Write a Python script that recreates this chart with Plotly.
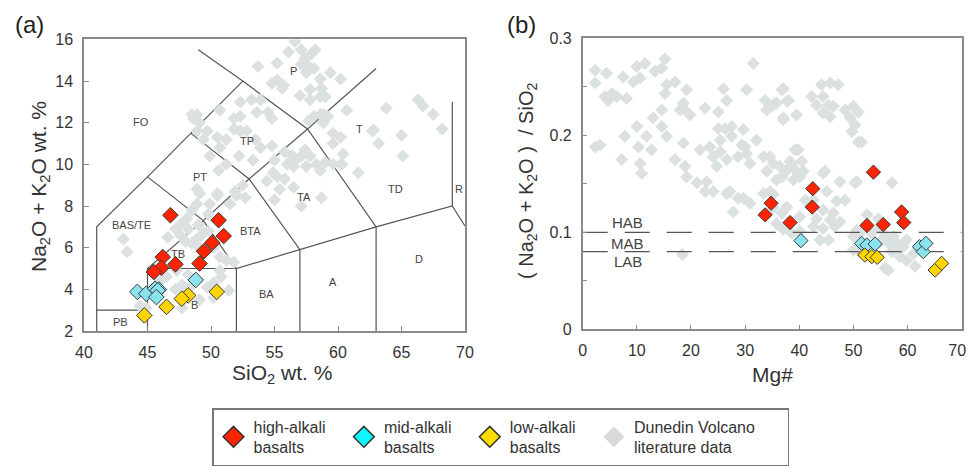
import plotly.graph_objects as go

# ---------------- data ----------------
# (a) TAS diagram: sample groups
HIGH_A_SIO2 = [46.8, 50.6, 51.0, 50.1, 49.45, 49.1, 46.2, 47.2, 46.1, 45.5]
HIGH_A_ALK = [7.56, 7.32, 6.56, 6.24, 5.83, 5.24, 5.55, 5.2, 5.04, 4.83]
MID_A_SIO2 = [48.8, 44.2, 44.9, 45.6, 45.9, 45.8, 45.7]
MID_A_ALK = [4.45, 3.88, 3.79, 4.03, 3.99, 3.95, 3.63]
LOW_A_SIO2 = [50.45, 48.2, 47.7, 46.5, 44.75]
LOW_A_ALK = [3.88, 3.71, 3.55, 3.16, 2.75]

GRAY_A_SIO2 = [56.6, 56.1, 57.1, 57.9, 57.4, 58.2, 55.2, 53.7, 57.1, 57.7, 57.5, 58.1, 55.2, 55.7, 54.8,
               55.6, 57.0, 57.8, 58.6, 59.4, 60.2, 57.8, 58.6, 59.0, 58.7, 60.7, 58.1, 58.9, 59.2, 63.8,
               66.3, 66.7, 67.5, 68.2, 65.0, 65.1, 62.7, 63.2, 59.6, 60.2, 59.6, 57.7, 53.9, 53.2, 52.3,
               53.6, 52.3, 51.8, 54.5, 54.8, 50.7, 48.6, 49.1, 48.9, 49.7, 49.4, 50.5, 51.2, 50.7, 48.5,
               48.9, 52.3, 52.8, 51.8, 53.5, 53.9, 54.8, 52.2, 53.3, 51.2, 49.9, 50.6, 55.0, 55.8, 56.4,
               56.0, 56.6, 57.1, 57.8, 57.5, 58.3, 58.6, 56.5, 59.6, 60.2, 61.6, 54.9, 55.2, 54.4, 51.9,
               52.5, 50.5, 48.9, 55.4, 56.5, 58.6, 58.85, 60.4, 60.3, 57.4, 59.0, 55.8, 62.8,
               49.1, 48.9, 48.5, 48.1, 47.6, 48.2, 49.0, 49.8, 49.9, 50.5, 52.0, 52.7, 51.5, 55.0, 57.1,
               58.7, 43.1, 43.4, 47.2, 46.6, 47.6, 48.0, 48.5, 48.9, 49.4, 49.8, 49.1, 50.2, 50.7, 51.2,
               51.8, 50.7, 50.8, 50.2, 49.7, 48.2, 47.7, 47.2, 46.0, 45.7, 46.5, 47.3, 47.7, 48.0, 48.35,
               47.7, 49.1, 50.2, 51.4, 44.4, 44.9]
GRAY_A_ALK = [15.9, 15.4, 15.5, 15.3, 15.1, 15.5, 14.85, 14.7, 14.8, 14.7, 14.4, 14.6, 14.05, 13.8, 13.9,
              13.65, 13.3, 13.6, 14.1, 14.4, 14.1, 13.1, 13.25, 13.25, 13.65, 12.6, 12.3, 12.4, 12.3, 12.7,
              13.1, 12.8, 12.4, 11.7, 11.4, 10.4, 11.6, 11.0, 11.5, 11.3, 11.0, 12.1, 13.1, 13.1, 13.0,
              12.5, 12.3, 12.2, 12.5, 12.2, 12.6, 12.2, 12.0, 11.6, 11.6, 11.2, 11.3, 11.2, 10.8, 12.4,
              12.4, 11.6, 11.6, 11.7, 11.2, 10.8, 10.9, 10.4, 10.2, 10.0, 10.4, 9.7, 10.2, 10.6, 10.4,
              10.0, 10.2, 10.4, 10.4, 9.9, 10.0, 9.7, 9.9, 10.0, 10.0, 9.6, 9.6, 9.4, 9.2, 8.7,
              9.0, 8.6, 8.8, 8.8, 8.9, 12.4, 12.0, 10.5, 10.0, 10.7, 10.1, 9.3, 11.65,
              8.6, 8.1, 7.8, 7.4, 7.1, 6.9, 7.1, 7.6, 8.1, 8.5, 8.5, 8.4, 8.1, 8.3, 8.0,
              8.4, 6.4, 5.8, 6.9, 6.5, 6.6, 6.3, 6.2, 6.4, 6.7, 6.8, 6.0, 6.0, 5.55, 5.4,
              5.3, 4.9, 4.6, 4.3, 4.1, 4.7, 4.2, 4.0, 4.4, 4.2, 4.6, 4.9, 3.5, 3.95, 4.1,
              3.1, 3.5, 3.6, 3.95, 3.2, 3.1]

# TAS field boundaries (None separates segments)
TAS_X = [41, 41, 45, 48.4, 52.5, 49.0, None,
         41, 45, None,
         45, 45, 49.4, 53, 57.6, 63.0, None,
         45, 52, 52, None,
         45, 49.4, 52, 57, 63, 69, 70, None,
         48.4, 53, 57, 57, None,
         52.5, 57.6, 63, 63, None,
         69, 69]
TAS_Y = [2, 7, 9.4, 11.5, 14, 15.5, None,
         3, 3, None,
         2, 5, 7.3, 9.3, 11.7, 14.6, None,
         5, 5, 2, None,
         9.4, 7.3, 5, 5.9, 7, 8, 7.04, None,
         11.5, 9.3, 5.9, 2, None,
         14, 11.7, 7, 2, None,
         8, 13]
FIELD_NAMES = ["FO", "P", "TP", "PT", "T", "TA", "TD", "R", "BAS/TE", "TB", "BTA", "B", "BA", "A", "D", "PB"]
FIELD_X = [44.5, 56.5, 52.8, 49.1, 61.7, 57.3, 64.5, 69.5, 43.75, 47.4, 53.1, 48.7, 54.4, 59.6, 66.4, 42.9]
FIELD_Y = [12.04, 14.5, 11.1, 9.4, 11.7, 8.45, 8.84, 8.84, 7.08, 5.7, 6.8, 3.23, 3.8, 4.35, 5.48, 2.43]

# (b) ratio vs Mg#
HIGH_B_MG = [34.8, 33.7, 38.3, 42.4, 42.5, 52.5, 55.5, 58.9, 59.3, 53.7]
HIGH_B_R = [0.130, 0.118, 0.110, 0.126, 0.145, 0.107, 0.108, 0.121, 0.110, 0.162]
MID_B_MG = [40.3, 51.5, 52.5, 54.0, 62.2, 62.9, 63.4]
MID_B_R = [0.0914, 0.0886, 0.0869, 0.0879, 0.0852, 0.080, 0.0886]
LOW_B_MG = [52.1, 53.4, 54.4, 65.1, 66.3]
LOW_B_R = [0.0766, 0.0749, 0.0742, 0.0611, 0.068]

GRAY_B_MG = [2.3, 2.3, 4.4, 4.1, 5.4, 6.3, 8.1, 4.7, 7.5, 9.35, 10.0, 11.5, 10.6, 13.35, 14.6, 15.2, 15.5,
             17.05, 15.2, 19.2, 18.6, 18.0, 19.8, 18.9, 14.6, 13.0, 10.0, 7.8, 11.8, 12.7, 10.3, 14.6,
             15.5, 17.05, 18.6, 18.9, 19.2, 2.3, 3.2, 7.2, 10.6, 10.9, 21.7, 23.5, 25.4, 24.1, 25.4,
             27.5, 28.7, 26.6, 21.1, 22.6, 27.2, 24.75, 22.6, 25.05, 26.0, 26.6, 25.05, 26.3, 27.5,
             29.7, 30.3, 29.4, 30.3, 30.9, 31.5, 30.0, 32.1, 33.7, 34.0, 34.9, 35.8, 36.8, 38.0, 37.05,
             39.5, 33.4, 34.6, 35.2, 34.0, 36.4, 37.7, 35.8, 39.2, 38.6, 40.45, 39.5, 38.9, 40.1, 36.8,
             44.4, 47.5, 50.3, 45.1, 42.6, 57.1, 22.9, 24.1, 29.7, 33.4, 34.6,
             37.05, 35.5, 37.7, 37.05, 44.1, 45.7, 47.2, 42.3, 44.4, 43.2, 45.4, 46.3, 44.4, 45.7,
             48.45, 50.0, 50.9, 49.4, 50.3, 49.7, 50.9, 51.5, 39.8, 38.3, 40.75, 44.75, 50.6,
             26.6, 28.7, 30.9, 35.2, 35.2, 36.8, 35.8, 37.05, 38.6, 40.1, 37.7, 40.1, 41.1, 43.2, 44.4,
             45.4, 46.3, 46.9, 48.45, 44.4, 45.7, 42.6, 46.6, 47.5, 50.0, 51.2, 53.4, 54.6, 54.9, 55.8,
             56.45, 57.4, 58.0, 57.1, 59.8, 61.1, 61.4, 55.8, 56.45, 50.6, 52.5, 54.9, 58.0, 59.2, 58.6,
             59.8, 18.4, 43.8, 50.0, 51.2, 27.8]
GRAY_B_R = [0.267, 0.254, 0.264, 0.240, 0.243, 0.240, 0.238, 0.236, 0.260, 0.255, 0.271, 0.274, 0.259,
            0.266, 0.269, 0.279, 0.252, 0.255, 0.243, 0.247, 0.233, 0.226, 0.221, 0.226, 0.226, 0.218,
            0.209, 0.199, 0.199, 0.185, 0.188, 0.209, 0.199, 0.175, 0.192, 0.168, 0.157, 0.188, 0.190,
            0.175, 0.171, 0.161, 0.185, 0.188, 0.195, 0.178, 0.183, 0.199, 0.178, 0.175, 0.151, 0.142,
            0.142, 0.168, 0.228, 0.224, 0.248, 0.236, 0.207, 0.207, 0.209, 0.206, 0.247, 0.190, 0.181,
            0.171, 0.274, 0.188, 0.195, 0.236, 0.226, 0.230, 0.233, 0.247, 0.236, 0.218, 0.221, 0.178,
            0.178, 0.171, 0.163, 0.168, 0.164, 0.154, 0.185, 0.171, 0.173, 0.163, 0.154, 0.157, 0.157,
            0.161, 0.152, 0.151, 0.142, 0.133, 0.151, 0.152, 0.142, 0.135, 0.140, 0.142,
            0.248, 0.233, 0.235, 0.216, 0.252, 0.254, 0.252, 0.240, 0.240, 0.231, 0.231, 0.230, 0.223,
            0.219, 0.226, 0.230, 0.224, 0.218, 0.211, 0.204, 0.193, 0.193, 0.185, 0.173, 0.163, 0.163,
            0.152,
            0.140, 0.135, 0.130, 0.139, 0.125, 0.120, 0.109, 0.103, 0.099, 0.101, 0.126, 0.116, 0.133,
            0.114, 0.104, 0.092, 0.120, 0.132, 0.133, 0.123, 0.113, 0.106, 0.106, 0.111, 0.096, 0.099,
            0.099, 0.114, 0.104, 0.096, 0.089, 0.096, 0.084, 0.080, 0.092, 0.078, 0.065, 0.063, 0.061,
            0.102, 0.118, 0.090, 0.089, 0.085, 0.075, 0.071, 0.077, 0.092, 0.082, 0.080, 0.121]

ALKALI_LIMITS = [0.10, 0.08]
LIMIT_LABELS = ["HAB", "MAB", "LAB"]
LIMIT_LABEL_Y = [0.110, 0.0887, 0.0697]
LIMIT_LABEL_X = 8.3

MG_TICKS = [0, 10, 20, 30, 40, 50, 60, 70]
MG_TICKTEXT = ["0", "10", "20", "30", "40", "50", "60", "70\u00a0\u00a0"]

NBSP = "\u00a0"
LEGEND_NAMES = ["high-alkali" + NBSP * 3 + "<br>basalts", "mid-alkali" + NBSP * 3 + "<br>basalts",
                "low-alkali" + NBSP * 3 + "<br>basalts", "Dunedin Volcano" + NBSP * 6 + "<br>literature data"]

# ---------------- styles ----------------
RED, CYAN, YELLOW, GRAY = "#ff2400", "#8ae4f0", "#ffd500", "#dbe1e0"
LEG_COLORS = ["#ff2400", "#10f4ff", "#ffdc00", "#d9d9d9"]
FONT = "Liberation Sans, Arial, sans-serif"
TXT = "#333333"
AX = "#8a8a8a"

fig = go.Figure()

# boundaries (a)
fig.add_trace(go.Scatter(x=TAS_X, y=TAS_Y, mode="lines", line=dict(color="#555555", width=1.2),
                         hoverinfo="skip", showlegend=False, xaxis="x", yaxis="y"))
# literature data
fig.add_trace(go.Scatter(x=GRAY_A_SIO2, y=GRAY_A_ALK, mode="markers", showlegend=False,
                         marker=dict(symbol="diamond", size=10, color=GRAY), xaxis="x", yaxis="y"))
fig.add_trace(go.Scatter(x=GRAY_B_MG, y=GRAY_B_R, mode="markers", showlegend=False,
                         marker=dict(symbol="diamond", size=10, color=GRAY), xaxis="x2", yaxis="y2"))

# limit lines (b)
for lim in ALKALI_LIMITS:
    fig.add_trace(go.Scatter(x=[0, 70], y=[lim, lim], mode="lines", showlegend=False, hoverinfo="skip",
                             line=dict(color="#555555", width=1.2, dash="25px,17px"),
                             xaxis="x2", yaxis="y2"))

groups = [(HIGH_A_SIO2, HIGH_A_ALK, HIGH_B_MG, HIGH_B_R, RED),
          (MID_A_SIO2, MID_A_ALK, MID_B_MG, MID_B_R, CYAN),
          (LOW_A_SIO2, LOW_A_ALK, LOW_B_MG, LOW_B_R, YELLOW)]
for xa, ya, xb, yb, col in groups:
    mk = dict(symbol="diamond", size=12, color=col, line=dict(color="#3a3a3a", width=1))
    fig.add_trace(go.Scatter(x=xa, y=ya, mode="markers", marker=mk, showlegend=False,
                             xaxis="x", yaxis="y"))
    mk2 = dict(mk, size=11)
    fig.add_trace(go.Scatter(x=xb, y=yb, mode="markers", marker=mk2, showlegend=False,
                             xaxis="x2", yaxis="y2"))

# legend entries
for i, name in enumerate(LEGEND_NAMES):
    lw = 1.5 if i < 3 else 0
    fig.add_trace(go.Scatter(x=[None], y=[None], mode="markers", name=name,
                             marker=dict(symbol="diamond", size=16, color=LEG_COLORS[i],
                                         line=dict(color="#333333", width=lw)),
                             xaxis="x", yaxis="y"))

ann = []
for n, fx, fy in zip(FIELD_NAMES, FIELD_X, FIELD_Y):
    ann.append(dict(x=fx, y=fy, xref="x", yref="y", text=n, showarrow=False,
                    font=dict(size=11, color="#444444", family=FONT)))
for lab, ly in zip(LIMIT_LABELS, LIMIT_LABEL_Y):
    ann.append(dict(x=LIMIT_LABEL_X, y=ly, xref="x2", yref="y2", text=lab, showarrow=False,
                    font=dict(size=15, color="#444444", family=FONT)))

W, H = 968, 472
def px(x): return x / W
def py(y): return 1 - y / H

def pann(x, y, text, size, angle=0, color=TXT):
    return dict(x=px(x), y=py(y), xref="paper", yref="paper", text=text, showarrow=False,
                xanchor="center", yanchor="middle", textangle=angle,
                font=dict(size=size, color=color, family=FONT))

ann += [
    pann(29, 25, "(a)", 24, color="#222"),
    pann(521, 25, "(b)", 24, color="#222"),
    pann(282, 374, "SiO<sub>2</sub> wt. %", 21),
    pann(40, 187, "Na<sub>2</sub>O + K<sub>2</sub>O wt. %", 21, -90),
    pann(772, 374, "Mg#", 21),
    pann(527, 181, "( Na<sub>2</sub>O + K<sub>2</sub>O )  / SiO<sub>2</sub>", 20, -90),
]

axis_common = dict(showline=True, mirror=True, linecolor=AX, linewidth=1.5, ticks="inside",
                   ticklen=5, tickcolor=AX, tickwidth=1.2, showgrid=False, zeroline=False,
                   automargin=False, ticklabeloverflow="allow",
                   tickfont=dict(size=16, color=TXT, family=FONT), ticklabelstandoff=6)

fig.update_layout(
    width=W, height=H, margin=dict(l=0, r=0, t=0, b=0, autoexpand=False),
    paper_bgcolor="white", plot_bgcolor="white",
    xaxis=dict(axis_common, domain=[px(84), px(465)], range=[40, 70], tick0=40, dtick=5, anchor="y"),
    yaxis=dict(axis_common, domain=[py(331), py(39.4)], range=[2, 16], tick0=2, dtick=2, anchor="x"),
    xaxis2=dict(axis_common, domain=[px(582.7), px(961.7)], range=[0, 70],
                tickvals=MG_TICKS, ticktext=MG_TICKTEXT, anchor="y2"),
    yaxis2=dict(axis_common, domain=[py(329.3), py(38.3)], range=[0, 0.3],
                tickvals=[0, 0.05, 0.1, 0.15, 0.2, 0.25, 0.3],
                ticktext=["0", "", "0.1", "", "0.2", "", "0.3"], anchor="x2"),
    annotations=ann,
    showlegend=True,
    legend=dict(orientation="h", x=px(212), y=py(408), xanchor="left", yanchor="top",
                bordercolor="#777777", borderwidth=1.5, bgcolor="white",
                font=dict(size=16, color=TXT, family=FONT), itemclick=False),
    font=dict(family=FONT),
)

fig.write_html("out.html")
